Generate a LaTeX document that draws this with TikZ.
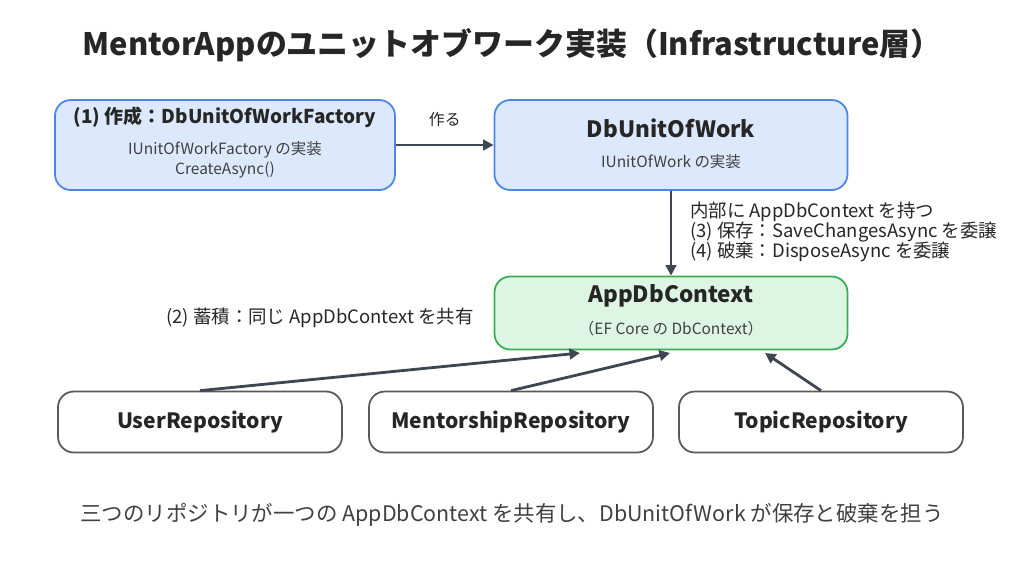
\documentclass[tikz,border=0pt]{standalone}
\usepackage{fontspec}
\setmainfont{Noto Sans CJK JP}
\usetikzlibrary{arrows.meta,positioning}
\definecolor{bluefill}{HTML}{DCE8FB}
\definecolor{blueline}{HTML}{4A86E8}
\definecolor{greenfill}{HTML}{DDF5E3}
\definecolor{greenline}{HTML}{3CAA55}
\definecolor{darktext}{HTML}{262626}
\definecolor{subtext}{HTML}{404040}
\definecolor{arrowgray}{HTML}{3F4652}
\tikzset{
  box/.style={draw, rounded corners=9pt, line width=1pt},
  bluebox/.style={box, fill=bluefill, draw=blueline},
  greenbox/.style={box, fill=greenfill, draw=greenline},
  repobox/.style={box, fill=white, draw=gray!70!black, minimum width=284*0.02cm, minimum height=61*0.02cm, font=\bfseries\fontsize{12}{14}\selectfont, text=darktext},
  head/.style={font=\bfseries\fontsize{10.8}{12}\selectfont, text=darktext},
  sub/.style={font=\fontsize{8.8}{11.5}\selectfont, text=subtext, align=center},
  note/.style={font=\fontsize{10.5}{11.5}\selectfont, text=darktext},
  link/.style={-{Triangle[length=6pt,width=6pt]}, line width=1.6pt, draw=arrowgray}
}
\begin{document}
\begin{tikzpicture}[x=0.02cm, y=-0.02cm]
\useasboundingbox (0,0) rectangle (1024,576);

% Title
\node[font=\bfseries\fontsize{17.6}{20}\selectfont, text=darktext] (title) at (512,45) {MentorAppのユニットオブワーク実装（Infrastructure層）};

% Main boxes
\node[bluebox, minimum width=340*0.02cm, minimum height=90*0.02cm] (factory) at (225,145) {};
\node[head] (factoryhead) at (225,117) {(1) 作成：DbUnitOfWorkFactory};
\node[sub] (factorysub) at (225,160) {IUnitOfWorkFactory の実装\\CreateAsync()};

\node[bluebox, minimum width=353*0.02cm, minimum height=90*0.02cm] (uow) at (671,145) {};
\node[head, font=\bfseries\fontsize{12.8}{14}\selectfont] (uowhead) at (671,128) {DbUnitOfWork};
\node[sub] (uowsub) at (671,162) {IUnitOfWork の実装};

\node[greenbox, minimum width=353*0.02cm, minimum height=73*0.02cm] (ctx) at (671,313) {};
\node[head, font=\bfseries\fontsize{12.8}{14}\selectfont] (ctxhead) at (671,296) {AppDbContext};
\node[sub] (ctxsub) at (671,329) {（EF Core の DbContext）};

% Repositories
\node[repobox] (userrepo) at (200,422) {UserRepository};
\node[repobox] (mentorrepo) at (511,422) {MentorshipRepository};
\node[repobox] (topicrepo) at (821,422) {TopicRepository};

% Connectors
\draw[link] (factory) -- (uow) node[midway, above=6pt, note, font=\fontsize{9}{10}\selectfont] {作る};
\draw[link] (uow) -- (ctx);
\coordinate (ctxin1) at (580,353);
\coordinate (ctxin2) at (670,353);
\coordinate (ctxin3) at (765,353);
\draw[link] (userrepo.north) -- (ctxin1);
\draw[link] (mentorrepo.north) -- (ctxin2);
\draw[link] (topicrepo.north) -- (ctxin3);

% Notes
\node[note, align=left, anchor=west] (uownote) at (684,232) {内部に AppDbContext を持つ\\(3) 保存：SaveChangesAsync を委譲\\(4) 破棄：DisposeAsync を委譲};
\node[note, anchor=east] (sharenote) at (480,318) {(2) 蓄積：同じ AppDbContext を共有};

% Footer
\node[font=\fontsize{12.2}{14}\selectfont, text=subtext] (footer) at (512,515) {三つのリポジトリが一つの AppDbContext を共有し、DbUnitOfWork が保存と破棄を担う};
\end{tikzpicture}
\end{document}
